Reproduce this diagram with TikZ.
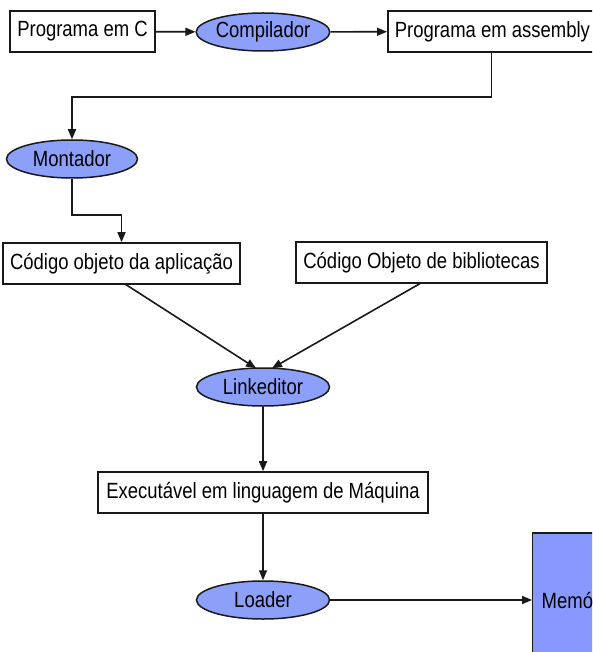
\documentclass[tikz,border=0pt]{standalone}
\usepackage{fontspec}
\setmainfont{Liberation Sans}[FakeStretch=0.84]
\usetikzlibrary{arrows.meta,shapes.geometric,calc}
\definecolor{procfill}{RGB}{140,160,250}
\definecolor{memfill}{RGB}{135,152,255}
\definecolor{linecol}{RGB}{25,25,25}
\tikzset{
  every node/.style={font=\fontsize{22}{26}\selectfont, text=black},
  box/.style={draw=linecol, line width=1.6pt, fill=white, rectangle, minimum height=41pt, inner xsep=7pt, inner ysep=0pt},
  proc/.style={draw=linecol, line width=1.5pt, fill=procfill, ellipse, minimum width=133pt, minimum height=38pt, inner sep=0pt},
  arr/.style={draw=linecol, line width=1.6pt, -{Triangle[length=10pt,width=8pt]}}
}
\begin{document}
\begin{tikzpicture}[x=1pt,y=-1pt]
\clip (0,0) rectangle (592,652);
\fill[white] (0,0) rectangle (592,652);
\node[box, minimum width=145pt] (pc) at (82.5,31.5) {Programa em C};
\node[proc] (comp) at (263,32) {Compilador};
\node[box, minimum width=209pt, anchor=west] (asm) at (387,31.5) {Programa em assembly};
\node[proc, minimum width=131pt] (mont) at (72,159) {Montador};
\node[box, minimum width=236pt] (app) at (121.5,263.5) {Código objeto da aplicação};
\node[box, minimum width=251pt] (lib) at (421.5,262.5) {Código Objeto de bibliotecas};
\node[proc] (link) at (263,387) {Linkeditor};
\node[box, minimum width=330pt] (exe) at (263,492.5) {Executável em linguagem de Máquina};
\node[proc] (load) at (263,600) {Loader};
\node[draw=linecol, line width=1.4pt, fill=memfill, rectangle, anchor=west, minimum height=134pt, inner xsep=9pt, text width=90pt, align=left] (mem) at (532,600) {Memória};
\coordinate (c1) at (491.5,97);
\coordinate (c2) at (72,215);
\coordinate (a1) at (125,284);
\coordinate (b1) at (421,283);
\draw[arr] (pc) -- (comp);
\draw[arr] (comp) -- (asm);
\draw[arr] (asm.south -| c1) -- (c1) -| (mont.north);
\draw[arr] (mont.south) -- (c2) -| (app.north);
\draw[arr] (a1) -- ($(link.north)+(-7,1)$);
\draw[arr] (b1) -- ($(link.north)+(9,1)$);
\draw[arr] (link) -- (exe);
\draw[arr] (exe) -- (load);
\draw[arr] (load) -- (mem);
\end{tikzpicture}
\end{document}
